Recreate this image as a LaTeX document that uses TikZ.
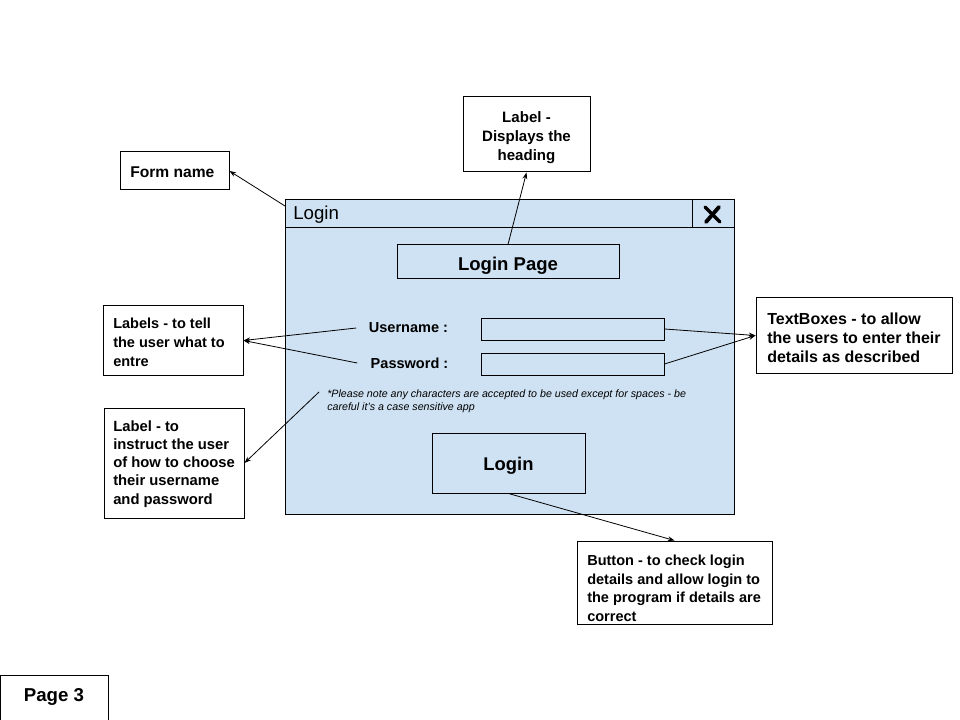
\documentclass[tikz,border=0pt]{standalone}
\usepackage{fontspec}
\setmainfont{Liberation Sans}
\usetikzlibrary{arrows.meta,calc}
\definecolor{formblue}{HTML}{CFE2F3}
\begin{document}
\begin{tikzpicture}[x=0.75pt,y=-0.75pt,
  frame/.style={draw=black,line width=0.75pt,rectangle,inner sep=0pt},
  btext/.style={inner xsep=0pt,inner ysep=0pt,align=left},
  field/.style={draw=black,line width=0.75pt,rectangle,inner sep=0pt},
  fieldlabel/.style={inner sep=0pt,minimum width=78pt,minimum height=14pt,font=\fontsize{10.9}{13}\selectfont\bfseries},
  conn/.style={line width=0.6pt,-{Stealth[length=5pt,width=3.6pt]}}]
\useasboundingbox (0,0) rectangle (960,720);

% form window
\node[field,fill=formblue,minimum width=336.75pt,minimum height=235.5pt] (form) at (509.5,357) {};
\coordinate (titleL) at (285,228);
\coordinate (titleR) at (734,228);
\draw[line width=0.75pt] (titleL) -- (titleR);
\coordinate (closeT) at (692,200);
\coordinate (closeB) at (692,228);
\draw[line width=0.75pt] (closeT) -- (closeB);
\coordinate (x1) at (705,207);
\coordinate (x2) at (720,222);
\coordinate (x3) at (719,207);
\coordinate (x4) at (706,222);
\draw[line width=2.6pt,line cap=round] (x1) -- (x2);
\draw[line width=2.9pt,line cap=round] (x3) -- (x4);
\node[anchor=west,inner sep=0pt,font=\fontsize{14}{16}\selectfont] (title) at (293,215) {Login};

\node[field,minimum width=166.5pt,minimum height=25.5pt] (loginpage) at (508,262) {};
\node[inner sep=0pt,font=\fontsize{13.9}{16}\selectfont\bfseries] (loginpage-t) at (508,266) {Login Page};

\node[fieldlabel] (user) at (408.5,328) {Username :};
\node[fieldlabel] (pass) at (409.5,363) {Password :};
\node[field,minimum width=137.25pt,minimum height=16.5pt] (tb1) at (572.5,329) {};
\node[field,minimum width=137.25pt,minimum height=16.5pt] (tb2) at (572.5,364) {};

\node[anchor=west,inner sep=0pt,align=left,font=\fontsize{8}{9.75}\selectfont\itshape] (note) at (327,401.5)
  {*Please note any characters are accepted to be used except for spaces - be\\careful it's a case sensitive app};
\coordinate (noteA) at (319,392);

\node[field,minimum width=114.75pt,minimum height=45pt] (loginbtn) at (508.5,463) {};
\node[inner sep=0pt,font=\fontsize{13.8}{16}\selectfont\bfseries] (loginbtn-t) at (508.5,466) {Login};

% annotation boxes
\node[frame,minimum width=81.75pt,minimum height=28.5pt] (formname) at (174.5,171) {};
\node[btext,anchor=west,font=\fontsize{11.7}{13.7}\selectfont\bfseries] (formname-t) at (130,172) {Form name};

\node[frame,minimum width=95.25pt,minimum height=56.25pt] (heading) at (526.5,134.5) {};
\node[btext,align=center,font=\fontsize{11.3}{14}\selectfont\bfseries] (heading-t) at (526.5,137.5)
  {Label -\\Displays the\\heading};

\node[frame,minimum width=105pt,minimum height=51.75pt] (labels) at (173,340.5) {};
\node[btext,anchor=west,font=\fontsize{10.9}{14.2}\selectfont\bfseries] (labels-t) at (113,342)
  {Labels - to tell\\the user what to\\entre};

\node[frame,minimum width=105pt,minimum height=82.5pt] (instruct) at (174,463) {};
\node[btext,anchor=west,font=\fontsize{11.1}{13.6}\selectfont\bfseries] (instruct-t) at (113,464)
  {Label - to\\instruct the user\\of how to choose\\their username\\and password};

\node[frame,minimum width=147pt,minimum height=56.25pt] (textboxes) at (854,335.5) {};
\node[btext,anchor=west,font=\fontsize{12}{14.2}\selectfont\bfseries] (textboxes-t) at (767,338)
  {TextBoxes - to allow\\the users to enter their\\details as described};

\node[frame,minimum width=146.25pt,minimum height=62.25pt] (button) at (674.5,582.5) {};
\node[btext,anchor=west,font=\fontsize{10.9}{13.9}\selectfont\bfseries] (button-t) at (587,588.5)
  {Button - to check login\\details and allow login to\\the program if details are\\correct};

\node[frame,minimum width=81pt,minimum height=33.75pt] (page) at (54.5,698) {};
\node[inner sep=0pt,font=\fontsize{14}{16}\selectfont\bfseries] (page-t) at (54,697) {Page 3};

% connectors
\coordinate (formA) at (285,206);
\draw[conn] (formA) -- (formname.east);
\draw[conn] (loginpage.north) -- (heading.south);
\draw[conn] (user.west) -- (labels.east);
\draw[conn] (pass.west) -- (labels.east);
\draw[conn] (tb1.east) -- (textboxes.west);
\draw[conn] (tb2.east) -- (textboxes.west);
\draw[conn] (noteA) -- (instruct.east);
\draw[conn] (loginbtn.south) -- (button.north);
\end{tikzpicture}
\end{document}
